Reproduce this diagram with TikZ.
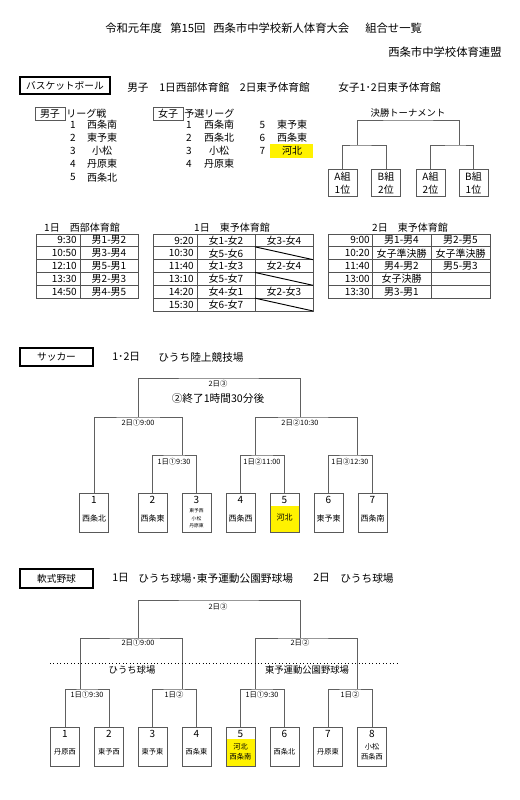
\documentclass[tikz,border=0pt]{standalone}
\usepackage{fontspec}
\setmainfont{Noto Sans CJK JP}
\newcommand\fsz[2]{\fontsize{#1pt}{#2pt}\selectfont}
\begin{document}
\begin{tikzpicture}[x=0.75pt,y=-0.75pt,
  ttl/.style={font=\fsz{8.5}{10}, inner sep=0, anchor=west},
  hd/.style={font=\fsz{8}{9.6}, inner sep=0, anchor=west},
  tx/.style={font=\fsz{7.5}{9}, inner sep=0},
  sect/.style={draw, line width=2.2pt, inner sep=0, font=\fsz{7.3}{9}},
  tag/.style={draw=gray!70!black, line width=0.6pt, inner sep=0, minimum width=22.5pt, minimum height=9.75pt, font=\fsz{7.5}{9}},
  ln/.style={draw=gray!75!black, line width=0.6pt},
  tb/.style={draw=gray!65!black, line width=0.6pt},
  sm/.style={font=\fsz{5.5}{6.5}, inner sep=0},
  num/.style={font=\fsz{7.5}{9}, inner sep=0},
  nm/.style={font=\fsz{6}{7}, inner sep=0, align=center},
  nms/.style={font=\fsz{5.4}{7.5}, inner sep=0, align=center},
  teambox/.style={draw=gray!70!black, line width=0.6pt, minimum width=21.75pt, minimum height=29.25pt, inner sep=0, anchor=north},
  bbox/.style={draw=gray!70!black, line width=0.6pt, minimum width=21.75pt, minimum height=20.25pt, inner sep=0, anchor=north, align=center, font=\fsz{7.5}{9.5}}
]
\fill[white] (0,0) rectangle (520,800);
\useasboundingbox (0,0) rectangle (520,800);

% ---------- header ----------
\node[ttl] (h1) at (105,28) {令和元年度};
\node[ttl] (h2) at (170,28) {第15回};
\node[ttl] (h3) at (213,28) {西条市中学校新人体育大会};
\node[ttl] (h4) at (365,28) {組合せ一覧};
\node[ttl] (h5) at (388,52) {西条市中学校体育連盟};

% ---------- basketball ----------
\node[sect, minimum width=67.5pt, minimum height=12.75pt] (bk) at (65,85.5) {バスケットボール};
\node[hd] (bkh1) at (127,87) {男子　1日西部体育館　2日東予体育館};
\node[hd] (bkh2) at (338,87) {女子1･2日東予体育館};

\node[tag] (mtag) at (50,113.5) {男子};
\node[tx, anchor=west] (mlg) at (66,113.5) {リーグ戦};
\foreach \s [count=\i] in {西条南,東予東,小松,丹原東,西条北}{
  \node[tx] (mn\i) at (73,{124.5+13.2*(\i-1)}) {\i};
  \node[tx] (ms\i) at (102,{124.5+13.2*(\i-1)}) {\s};
}
\node[tag] (ftag) at (168,113.5) {女子};
\node[tx, anchor=west] (flg) at (184,113.5) {予選リーグ};
\foreach \s [count=\i] in {西条南,西条北,小松,丹原東}{
  \node[tx] (fn\i) at (189,{124.5+13.2*(\i-1)}) {\i};
  \node[tx] (fs\i) at (219,{124.5+13.2*(\i-1)}) {\s};
}
\fill[yellow] (270,144) rectangle (313,158);
\foreach \s [count=\i] in {東予東,西条東,河北}{
  \pgfmathtruncatemacro\k{\i+4}
  \node[tx] (fn\k) at (262.5,{124.5+13.2*(\i-1)}) {\k};
  \node[tx] (fs\k) at (292,{124.5+13.2*(\i-1)}) {\s};
}

% final tournament
\node[font=\fsz{7}{8.5}, inner sep=0] (kt) at (408,113) {決勝トーナメント};
\node[bbox] (b1) at (342.5,169) {A組\\1位};
\node[bbox] (b2) at (386,169) {B組\\2位};
\node[bbox] (b3) at (430.5,169) {A組\\2位};
\node[bbox] (b4) at (473.5,169) {B組\\1位};
\coordinate (k1) at (357,145);
\coordinate (k2) at (459,145);
\coordinate (ktop) at (408,120);
\draw[ln] (b1.north) |- (k1) -| (b2.north);
\draw[ln] (b3.north) |- (k2) -| (b4.north);
\draw[ln] (k1) |- (ktop) -| (k2);

% tables
\node[tx] (c1) at (82,228) {1日　西部体育館};
\draw[tb] (36,234) rectangle (138,298);
\draw[tb] (80,234) -- (80,298);
\foreach \y in {246.8,259.6,272.4,285.2} \draw[tb] (36,\y) -- (138,\y);
\foreach \t/\m [count=\i] in {9:30/男1-男2,10:50/男3-男4,12:10/男5-男1,13:30/男2-男3,14:50/男4-男5}{
  \node[tx, anchor=east] (ta\i) at (77,{234+12.8*\i-6.4}) {\t};
  \node[tx] (tb\i) at (109,{234+12.8*\i-6.4}) {\m};
}

\node[tx] (c2) at (232,228) {1日　東予体育館};
\draw[tb] (153,234) rectangle (313,311);
\draw[tb] (197,234) -- (197,311);
\draw[tb] (255,234) -- (255,311);
\foreach \i in {1,...,5} \draw[tb] (153,{234+12.83*\i}) -- (313,{234+12.83*\i});
\foreach \t/\m [count=\i] in {9:20/女1-女2,10:30/女5-女6,11:40/女1-女3,13:10/女5-女7,14:20/女4-女1,15:30/女6-女7}{
  \node[tx, anchor=east] (tc\i) at (194,{234+12.83*\i-6.4}) {\t};
  \node[tx] (td\i) at (226,{234+12.83*\i-6.4}) {\m};
}
\node[tx] (te1) at (284,{234+12.83*0.5}) {女3-女4};
\node[tx] (te3) at (284,{234+12.83*2.5}) {女2-女4};
\node[tx] (te5) at (284,{234+12.83*4.5}) {女2-女3};
\foreach \i in {1,3,5} \draw[line width=0.7pt] (255,{234+12.83*\i}) -- (313,{234+12.83*(\i+1)});

\node[tx] (c3) at (410,228) {2日　東予体育館};
\draw[tb] (328,234) rectangle (490,298);
\draw[tb] (372,234) -- (372,298);
\draw[tb] (431,234) -- (431,298);
\foreach \y in {246.8,259.6,272.4,285.2} \draw[tb] (328,\y) -- (490,\y);
\foreach \t/\m/\n [count=\i] in {9:00/男1-男4/男2-男5,10:20/女子準決勝/女子準決勝,11:40/男4-男2/男5-男3,13:00/女子決勝/,13:30/男3-男1/}{
  \node[tx, anchor=east] (tf\i) at (370,{234+12.8*\i-6.4}) {\t};
  \node[tx] (tg\i) at (401.5,{234+12.8*\i-6.4}) {\m};
  \node[tx] (th\i) at (460.5,{234+12.8*\i-6.4}) {\n};
}

% ---------- soccer ----------
\node[sect, minimum width=54.75pt, minimum height=13.5pt] (sc) at (56.5,357) {サッカー};
\node[hd] (sch1) at (112,357) {1･2日};
\node[hd] (sch2) at (158,357) {ひうち陸上競技場};

\fill[yellow] (270,506) rectangle (299,532);
\foreach \x [count=\i] in {94,152.5,196.5,240.5,284.5,328.5,372.5}{
  \node[teambox] (s\i) at (\x,493) {};
  \node[num] (sn\i) at (\x,499.5) {\i};
}
\node[nm] (sm1) at (94,518) {西条北};
\node[nm] (sm2) at (152.5,518) {西条東};
\node[font=\fsz{3.6}{5.6}, inner sep=0, align=center] (sm3) at (196.5,518.5) {東予西\\小松\\丹原東};
\node[nm] (sm4) at (240.5,518) {西条西};
\node[nm] (sm5) at (284.5,518) {河北};
\node[nm] (sm6) at (328.5,518) {東予東};
\node[nm] (sm7) at (372.5,518) {西条南};

\coordinate (stop) at (218,378);
\coordinate (t2L) at (138,417);
\coordinate (t2R) at (300,417);
\coordinate (jA) at (182,455);
\coordinate (mA) at (174,455);
\coordinate (jB) at (255,455);
\coordinate (mB) at (262,455);
\coordinate (jC) at (357,455);
\coordinate (mC) at (350,455);
\draw[ln] (s2.north) |- (mA) -| (s3.north);
\draw[ln] (s4.north) |- (mB) -| (s5.north);
\draw[ln] (s6.north) |- (mC) -| (s7.north);
\draw[ln] (s1.north) |- (t2L) -| (jA);
\draw[ln] (jB) |- (t2R) -| (jC);
\draw[ln] (t2L) |- (stop) -| (t2R);
\node[sm] (sl0) at (218,384) {2日③};
\node[font=\fsz{8}{9.6}, inner sep=0] (sl00) at (218,398) {②終了1時間30分後};
\node[sm] (sl1) at (138,423) {2日①9:00};
\node[sm] (sl2) at (300,423) {2日②10:30};
\node[sm] (sl3) at (174,462) {1日①9:30};
\node[sm] (sl4) at (262,462) {1日②11:00};
\node[sm] (sl5) at (350,462) {1日③12:30};

% ---------- baseball ----------
\node[sect, minimum width=54.75pt, minimum height=14.25pt] (bb) at (56.5,578.5) {軟式野球};
\node[hd] (bbh1) at (112,578) {1日};
\node[hd] (bbh2) at (138,578) {ひうち球場･東予運動公園野球場};
\node[hd] (bbh3) at (313,578) {2日};
\node[hd] (bbh4) at (340,578) {ひうち球場};

\fill[yellow] (226,739) rectangle (255,766);
\foreach \x [count=\i] in {65,109,152.5,196.5,240.5,284.5,328,372}{
  \node[teambox] (g\i) at (\x,727) {};
  \node[num] (gn\i) at (\x,733.5) {\i};
}
\node[nms] (gm1) at (65,752) {丹原西};
\node[nms] (gm2) at (109,752) {東予西};
\node[nms] (gm3) at (152.5,752) {東予東};
\node[nms] (gm4) at (196.5,752) {西条東};
\node[nms] (gm5) at (240.5,752) {河北\\西条南};
\node[nms] (gm6) at (284.5,752) {西条北};
\node[nms] (gm7) at (328,752) {丹原東};
\node[nms] (gm8) at (372,752) {小松\\西条西};

\coordinate (utop) at (218,600);
\coordinate (u2L) at (138,638);
\coordinate (u2R) at (300,638);
\coordinate (nA) at (87,689);
\coordinate (nB) at (174,689);
\coordinate (nC) at (262,689);
\coordinate (nD) at (350,689);
\coordinate (pA) at (80,689);
\coordinate (pB) at (182,689);
\coordinate (pC) at (255,689);
\coordinate (pD) at (357,689);
\draw[ln] (g1.north) |- (nA) -| (g2.north);
\draw[ln] (g3.north) |- (nB) -| (g4.north);
\draw[ln] (g5.north) |- (nC) -| (g6.north);
\draw[ln] (g7.north) |- (nD) -| (g8.north);
\draw[ln] (pA) |- (u2L) -| (pB);
\draw[ln] (pC) |- (u2R) -| (pD);
\draw[ln] (u2L) |- (utop) -| (u2R);
\coordinate (dl) at (50,663);
\coordinate (dr) at (400,663);
\draw[dotted, line width=0.6pt] (dl) -- (dr);
\node[font=\fsz{7}{8.5}, inner sep=0] (fd1) at (132,670) {ひうち球場};
\node[font=\fsz{7}{8.5}, inner sep=0] (fd2) at (307,670) {東予運動公園野球場};
\node[sm] (gl0) at (218,607) {2日③};
\node[sm] (gl1) at (138,643) {2日①9:00};
\node[sm] (gl2) at (300,643) {2日②};
\node[sm] (gl3) at (87,694.5) {1日①9:30};
\node[sm] (gl4) at (174,694.5) {1日②};
\node[sm] (gl5) at (262,694.5) {1日①9:30};
\node[sm] (gl6) at (350,694.5) {1日②};
\end{tikzpicture}
\end{document}
